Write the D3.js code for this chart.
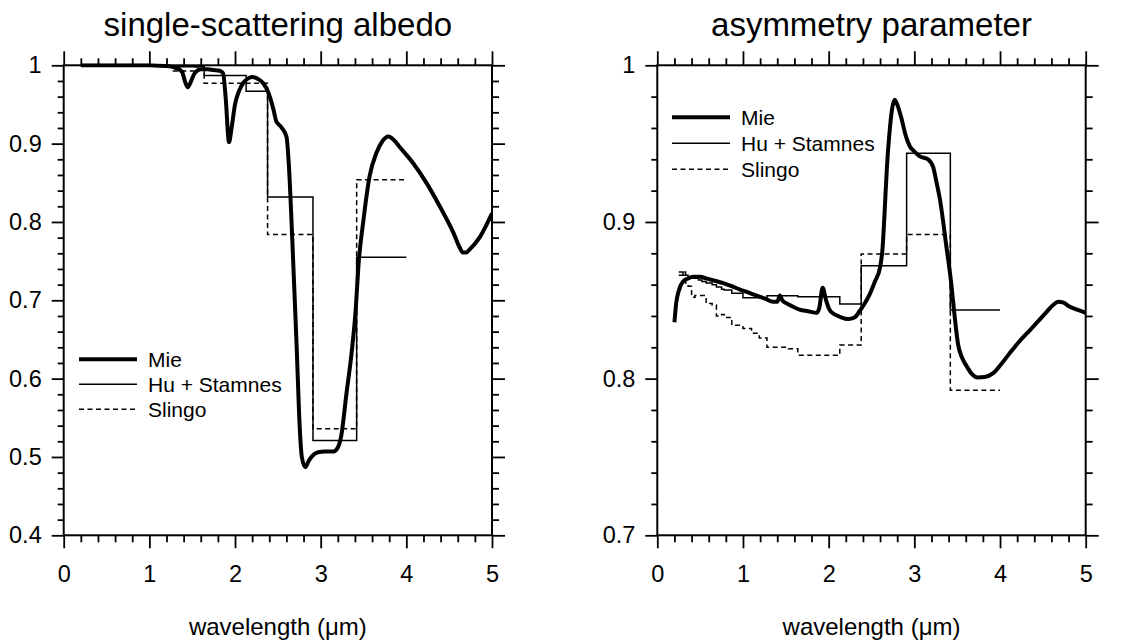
<!DOCTYPE html>
<html>
<head>
<meta charset="utf-8">
<script src="https://cdn.jsdelivr.net/npm/d3@7"></script>
<style>
  html, body { margin: 0; padding: 0; background: #fff; }
  svg { display: block; }
  text { font-family: "Liberation Sans", Arial, Helvetica, sans-serif; fill: #000; }
</style>
</head>
<body>
<svg id="chart" width="1146" height="643"></svg>
<script>
// Spectral band edges (µm) shared by the two band-averaged parameterizations
const bandEdges = [0.25, 0.30, 0.33, 0.36, 0.40, 0.44, 0.48, 0.52, 0.57, 0.64,
                   0.69, 0.75, 0.78, 0.87, 1.00, 1.10, 1.19, 1.28, 1.53, 1.64,
                   2.13, 2.38, 2.91, 3.42, 4.00];

// Single-scattering albedo, band values
const huAlbedo = [1, 1, 1, 1, 1, 1, 1, 1, 1, 1, 1, 1, 1, 1, 1, 1,
                  0.9995, 0.998, 0.998, 0.987, 0.967, 0.832, 0.521, 0.755];
const slingoAlbedo = [1, 1, 1, 1, 1, 1, 1, 1, 1, 1, 1, 1, 1, 1, 1, 1,
                      0.9995, 0.9926, 0.998, 0.977, 0.977, 0.784, 0.536, 0.854];

// Asymmetry parameter, band values
const huAsym = [0.868, 0.866, 0.866, 0.865, 0.864, 0.864, 0.863, 0.862, 0.861, 0.860,
                0.8585, 0.857, 0.8565, 0.8545, 0.8517, 0.8517, 0.8517, 0.8529, 0.8529, 0.8523,
                0.8477, 0.8721, 0.9438, 0.8438];
const slingoAsym = [0.866, 0.868, 0.861, 0.859, 0.852, 0.853, 0.853, 0.853, 0.848, 0.847,
                    0.840, 0.841, 0.839, 0.834, 0.832, 0.829, 0.826, 0.820, 0.819, 0.815,
                    0.8215, 0.8796, 0.892, 0.7926];

// Mie single-scattering albedo spectrum
const mieAlbedoX = [0.2, 0.5, 0.8, 1.0, 1.1, 1.2, 1.3, 1.38, 1.42, 1.45, 1.48, 1.53, 1.6, 1.68,
                    1.75, 1.82, 1.86, 1.89, 1.93, 1.96, 2.0, 2.05, 2.1, 2.15, 2.2, 2.26, 2.33,
                    2.39, 2.45, 2.48, 2.54, 2.6, 2.63, 2.66, 2.69, 2.72, 2.75, 2.78, 2.82, 2.86,
                    2.9, 2.97, 3.05, 3.15, 3.2, 3.24, 3.3, 3.36, 3.41, 3.44, 3.5, 3.57, 3.65,
                    3.72, 3.79, 3.85, 3.92, 4.08, 4.24, 4.39, 4.55, 4.62, 4.66, 4.7, 4.74, 4.86, 5.0];
const mieAlbedo = [1.0, 1.0, 1.0, 1.0, 0.9995, 0.999, 0.997, 0.992, 0.978, 0.972, 0.978, 0.99, 0.995, 0.995,
                   0.994, 0.993, 0.99, 0.96, 0.902, 0.92, 0.95, 0.968, 0.978, 0.983, 0.985, 0.983, 0.977,
                   0.965, 0.943, 0.929, 0.921, 0.909, 0.87, 0.80, 0.72, 0.64, 0.55, 0.50, 0.487, 0.495,
                   0.501, 0.506, 0.507, 0.507, 0.512, 0.527, 0.58, 0.632, 0.69, 0.743, 0.803, 0.858, 0.888,
                   0.903, 0.909, 0.905, 0.896, 0.875, 0.849, 0.820, 0.786, 0.768, 0.761, 0.761, 0.765, 0.781, 0.811];

// Mie asymmetry parameter spectrum
const mieAsymX = [0.2, 0.22, 0.25, 0.3, 0.36, 0.42, 0.5, 0.57, 0.67, 0.77, 0.87, 0.96, 1.06, 1.16,
                  1.26, 1.35, 1.40, 1.43, 1.46, 1.51, 1.58, 1.66, 1.76, 1.86, 1.89, 1.93, 1.97, 2.01,
                  2.07, 2.13, 2.23, 2.3, 2.36, 2.42, 2.48, 2.54, 2.6, 2.63, 2.65, 2.68, 2.71, 2.74,
                  2.77, 2.8, 2.85, 2.9, 2.95, 3.0, 3.06, 3.16, 3.22, 3.26, 3.30, 3.37, 3.43, 3.47,
                  3.51, 3.56, 3.61, 3.67, 3.74, 3.82, 3.92, 4.01, 4.11, 4.23, 4.35, 4.46, 4.55, 4.62,
                  4.68, 4.74, 4.81, 4.9, 5.0];
const mieAsym = [0.836, 0.848, 0.856, 0.862, 0.864, 0.865, 0.865, 0.864, 0.8625, 0.861, 0.859, 0.857, 0.855, 0.853,
                 0.851, 0.849, 0.849, 0.853, 0.850, 0.848, 0.846, 0.844, 0.843, 0.842, 0.845, 0.858, 0.85, 0.844,
                 0.841, 0.8395, 0.838, 0.839, 0.843, 0.848, 0.854, 0.862, 0.871, 0.884, 0.903, 0.935, 0.957, 0.972,
                 0.978, 0.975, 0.966, 0.955, 0.948, 0.945, 0.942, 0.940, 0.935, 0.925, 0.914, 0.886, 0.861, 0.840,
                 0.822, 0.813, 0.808, 0.803, 0.8007, 0.801, 0.8035, 0.809, 0.816, 0.824, 0.831, 0.8375, 0.843, 0.847,
                 0.849, 0.8485, 0.846, 0.844, 0.842];

// Axis ticks
const xMajor = [0, 1, 2, 3, 4, 5];
const xMinor = d3.range(0, 5.0001, 0.2).filter(v => Math.abs(v - Math.round(v)) > 1e-6);
const albedoMajor = [0.4, 0.5, 0.6, 0.7, 0.8, 0.9, 1];
const asymMajor = [0.7, 0.8, 0.9, 1];

const legendLabels = ["Mie", "Hu + Stamnes", "Slingo"];

const svg = d3.select("#chart");
svg.append("rect").attr("width", 1146).attr("height", 643).attr("fill", "#fff");

const FONT = "Liberation Sans, Arial, Helvetica, sans-serif";

function minorOf(domain, step, majors) {
  const out = [];
  for (let v = domain[0]; v <= domain[1] + 1e-9; v += step) {
    const r = Math.round(v * 1000) / 1000;
    if (!majors.some(m => Math.abs(m - r) < 1e-6)) out.push(r);
  }
  return out;
}

function stepPoints(edges, vals) {
  const pts = vals.map((v, i) => [edges[i], v]);
  pts.push([edges[edges.length - 1], vals[vals.length - 1]]);
  return pts;
}

function panel(opts) {
  const { x0, x1, y0, y1, yDomain, yMajor, title, mieX, mieY, hu, slingo, legend, id } = opts;
  const x = d3.scaleLinear().domain([0, 5]).range([x0, x1]);
  const y = d3.scaleLinear().domain(yDomain).range([y1, y0]);
  const g = svg.append("g");
  const yMinor = minorOf(yDomain, 0.02, yMajor);

  const styleAxis = sel => {
    sel.select(".domain").remove();
    sel.selectAll(".tick line").attr("stroke", "#000").attr("stroke-width", 1.8);
    sel.selectAll("text").attr("font-family", FONT).attr("font-size", 23.5).attr("fill", "#000");
  };

  // bottom
  g.append("g").attr("transform", `translate(0,${y1})`)
    .call(d3.axisBottom(x).tickValues(xMajor).tickSize(13).tickPadding(17).tickFormat(d3.format("d")))
    .call(styleAxis);
  g.append("g").attr("transform", `translate(0,${y1})`)
    .call(d3.axisBottom(x).tickValues(xMinor).tickSize(7).tickFormat(""))
    .call(styleAxis);
  // top
  g.append("g").attr("transform", `translate(0,${y0})`)
    .call(d3.axisTop(x).tickValues(xMajor).tickSize(14).tickFormat(""))
    .call(styleAxis);
  g.append("g").attr("transform", `translate(0,${y0})`)
    .call(d3.axisTop(x).tickValues(xMinor).tickSize(7).tickFormat(""))
    .call(styleAxis);
  // left
  g.append("g").attr("transform", `translate(${x0},0)`)
    .call(d3.axisLeft(y).tickValues(yMajor).tickSize(12).tickPadding(10).tickFormat(d => d === 1 ? "1" : d3.format(".1f")(d)))
    .call(styleAxis);
  g.append("g").attr("transform", `translate(${x0},0)`)
    .call(d3.axisLeft(y).tickValues(yMinor).tickSize(6).tickFormat(""))
    .call(styleAxis);
  // right
  g.append("g").attr("transform", `translate(${x1},0)`)
    .call(d3.axisRight(y).tickValues(yMajor).tickSize(13).tickFormat(""))
    .call(styleAxis);
  g.append("g").attr("transform", `translate(${x1},0)`)
    .call(d3.axisRight(y).tickValues(yMinor).tickSize(7).tickFormat(""))
    .call(styleAxis);

  // frame
  g.append("rect").attr("x", x0).attr("y", y0).attr("width", x1 - x0).attr("height", y1 - y0)
    .attr("fill", "none").attr("stroke", "#000").attr("stroke-width", 2);

  // clip region
  svg.append("clipPath").attr("id", id).append("rect")
    .attr("x", x0).attr("y", y0 - 2).attr("width", x1 - x0).attr("height", y1 - y0 + 4);
  const plot = g.append("g").attr("clip-path", `url(#${id})`);

  const line = d3.line().x(d => x(d[0])).y(d => y(d[1]));
  const stepLine = d3.line().x(d => x(d[0])).y(d => y(d[1])).curve(d3.curveStepAfter);

  plot.append("path").datum(stepPoints(bandEdges, slingo))
    .attr("d", stepLine).attr("fill", "none").attr("stroke", "#000")
    .attr("stroke-width", 1.5).attr("stroke-dasharray", "5,3.5");
  plot.append("path").datum(stepPoints(bandEdges, hu))
    .attr("d", stepLine).attr("fill", "none").attr("stroke", "#000").attr("stroke-width", 1.5);
  plot.append("path").datum(mieX.map((v, i) => [v, mieY[i]]))
    .attr("d", line.curve(d3.curveMonotoneX)).attr("fill", "none").attr("stroke", "#000")
    .attr("stroke-width", 4).attr("stroke-linejoin", "round");

  // title and axis label
  g.append("text").attr("x", (x0 + x1) / 2).attr("y", 36).attr("text-anchor", "middle")
    .attr("font-size", 33).text(title);
  g.append("text").attr("x", (x0 + x1) / 2).attr("y", 635).attr("text-anchor", "middle")
    .attr("font-size", 24).text("wavelength (μm)");

  // legend
  const styles = [{ w: 4, dash: null }, { w: 1.5, dash: null }, { w: 1.5, dash: "5,3.5" }];
  legendLabels.forEach((lab, i) => {
    const ly = legend.y + i * legend.dy;
    const ln = g.append("line").attr("x1", legend.x).attr("x2", legend.x + 58)
      .attr("y1", ly).attr("y2", ly).attr("stroke", "#000").attr("stroke-width", styles[i].w);
    if (styles[i].dash) ln.attr("stroke-dasharray", styles[i].dash);
    g.append("text").attr("x", legend.x + 69).attr("y", ly + 7.5).attr("font-size", 21).text(lab);
  });
}

panel({
  id: "clipA", x0: 63.7, x1: 492, y0: 65.3, y1: 535.3, yDomain: [0.4, 1], yMajor: albedoMajor,
  title: "single-scattering albedo", mieX: mieAlbedoX, mieY: mieAlbedo,
  hu: huAlbedo, slingo: slingoAlbedo, legend: { x: 79, y: 359.3, dy: 25 }
});
panel({
  id: "clipB", x0: 657.3, x1: 1085.7, y0: 65.3, y1: 535.3, yDomain: [0.7, 1], yMajor: asymMajor,
  title: "asymmetry parameter", mieX: mieAsymX, mieY: mieAsym,
  hu: huAsym, slingo: slingoAsym, legend: { x: 672, y: 117.3, dy: 26 }
});
</script>
</body>
</html>
